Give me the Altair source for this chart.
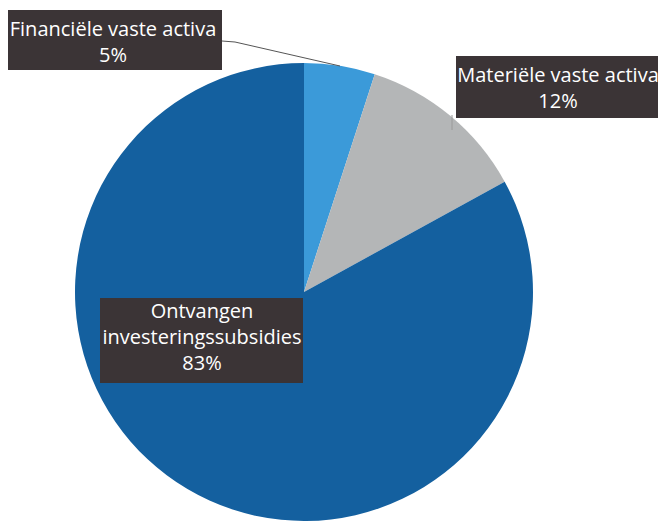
import altair as alt
import pandas as pd

# Data
categories = ["Financiële vaste activa", "Materiële vaste activa", "Ontvangen investeringssubsidies"]
shares = [5, 12, 83]
label_texts = ["Financiële vaste activa\n5%", "Materiële vaste activa\n12%",
               "Ontvangen\ninvesteringssubsidies\n83%"]

# Styles
colors = ["#3b9ad9", "#b4b6b7", "#14609f"]
box_color = "#3b3436"
FONT = "Open Sans"

df = pd.DataFrame({"cat": categories, "share": shares, "order": [0, 1, 2]})

CX, CY, R = 296, 284, 229

pie = alt.Chart(df).mark_arc(outerRadius=R).encode(
    theta=alt.Theta("share:Q", stack=True),
    color=alt.Color("cat:N", scale=alt.Scale(domain=categories, range=colors), legend=None),
    order=alt.Order("order:Q"),
    x=alt.value(CX),
    y=alt.value(CY),
)

# label box placement (pixels)
boxes = pd.DataFrame({
    "label": label_texts,
    "x0": [0, 448, 92],
    "x1": [214, 650, 295],
    "y0": [2, 48, 290],
    "y1": [62, 110, 375],
    "tx": [105, 550, 194],
    "ty": [28, 74, 310],
})

rects = alt.Chart(boxes).mark_rect(color=box_color).encode(
    x=alt.X("x0:Q", scale=None, axis=None),
    x2="x1:Q",
    y=alt.Y("y0:Q", scale=None, axis=None),
    y2="y1:Q",
)

texts = alt.Chart(boxes).mark_text(
    lineBreak="\n", font=FONT, fontSize=20, color="white", align="center",
    baseline="alphabetic", lineHeight=26,
).encode(
    x=alt.X("tx:Q", scale=None, axis=None),
    y=alt.Y("ty:Q", scale=None, axis=None),
    text="label:N",
)

leader1 = alt.Chart(df.head(1)).mark_rule(color="#555555", strokeWidth=1).encode(
    x=alt.value(214), y=alt.value(33), x2=alt.value(227), y2=alt.value(34)
)
leader2 = alt.Chart(df.head(1)).mark_rule(color="#555555", strokeWidth=1).encode(
    x=alt.value(227), y=alt.value(34), x2=alt.value(332), y2=alt.value(58)
)
tick = alt.Chart(df.head(1)).mark_rule(color="#9a9a9a", strokeWidth=1).encode(
    x=alt.value(444), y=alt.value(107), x2=alt.value(444), y2=alt.value(122)
)

chart = alt.layer(pie, leader1, leader2, tick, rects, texts).properties(
    width=650, height=516, padding=0, background="white",
    autosize=alt.AutoSizeParams(type="none"),
).configure_view(stroke=None)

chart.save("out.html", embed_options={"renderer": "svg", "actions": False})
